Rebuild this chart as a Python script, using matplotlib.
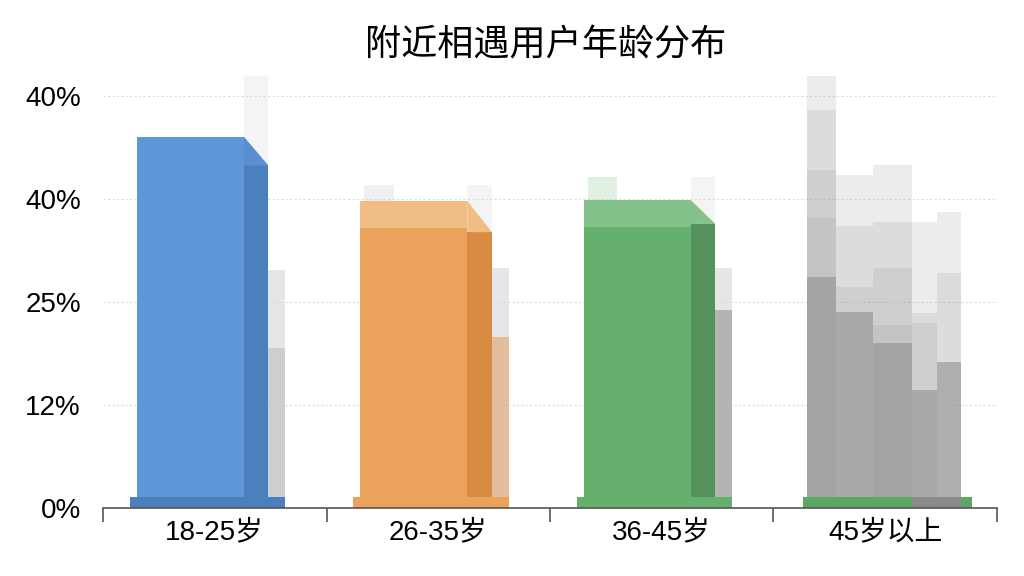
import matplotlib.pyplot as plt
import numpy as np

plt.rcParams['font.family'] = ['Liberation Sans', 'Noto Sans CJK SC', 'DejaVu Sans']

# data
categories = ['18-25岁', '26-35岁', '36-45岁', '45岁以上']
main_vals = [45.1, 37.3, 37.4]
side_vals = [41.6, 33.5, 34.5]
top_ghost = [52.5, 39.2, 40.2]        # faint shadow above main bars
ghost_hi = [28.9, 29.1, 29.2]         # faint shadow right of side bar
ghost_lo = [19.4, 20.8, 24.0]
ytick_vals = [0, 12.5, 25, 37.5, 50]
ytick_labels = ['0%', '12%', '25%', '40%', '40%']

# 45岁以上 : overlapping grey columns, several translucent layers each
grey_cols = [
    [28.0, 35.2, 41.0, 48.3, 52.5],
    [23.8, 26.8, 34.3, 40.4],
    [20.0, 22.2, 29.1, 34.7, 41.6],
    [14.3, 22.5, 23.7, 34.7],
    [17.7, 28.5, 35.9],
]

main_colors = ['#5e97d8', '#eba25a', '#66b06d']
side_colors = ['#4a80bd', '#d98b43', '#57915d']
band_colors = ['#5e97d8', '#f0bd85', '#85c28b']
ghost_colors = ['#c9c9c9', '#e3b48a', '#a8a8a8']

fig = plt.figure(figsize=(10.24, 5.76), dpi=100)
ax = fig.add_axes([0.1006, 0.118, 0.8730, 0.772])

main_l, main_w = 0.15, 0.48
side_w = 0.11
gh_w = 0.075

for i in range(3):
    x0 = i + main_l
    xs = x0 + main_w
    xg = xs + side_w
    # faint shadow columns
    ax.bar(xs, top_ghost[i], width=side_w, align='edge', color='#d5d5d5', alpha=0.25, zorder=1)
    ax.bar(x0 + 0.02, top_ghost[i] - 13 if i == 0 else top_ghost[i], width=0.13, align='edge',
           color='#cfcfcf' if i < 2 else '#9fd0a3', alpha=0.3, zorder=1)
    ax.bar(xg, ghost_hi[i], width=gh_w, align='edge', color='#d6d6d6', alpha=0.6, zorder=1)
    ax.bar(xg, ghost_lo[i], width=gh_w, align='edge', color=ghost_colors[i], alpha=0.8, zorder=1)
    # main block
    band = 0 if i == 0 else 3.3
    ax.bar(x0, main_vals[i] - band, width=main_w, align='edge', color=main_colors[i], zorder=3)
    if band:
        ax.bar(x0, band, bottom=main_vals[i] - band, width=main_w, align='edge',
               color=band_colors[i], zorder=3)
    # side face and bevel
    ax.bar(xs, side_vals[i], width=side_w, align='edge', color=side_colors[i], zorder=3)
    ax.fill([xs, xs + side_w, xs], [main_vals[i], side_vals[i], side_vals[i]],
            color=band_colors[i] if i else '#5a8fcf', zorder=3, lw=0)
    # base plate
    ax.bar(x0 - 0.03, 1.3, width=main_w + side_w + gh_w + 0.03, align='edge',
           color=side_colors[i] if i == 0 else main_colors[i], zorder=4)

edges = [3.15, 3.28, 3.445, 3.62, 3.73, 3.84]
for j, col in enumerate(grey_cols):
    w = edges[j + 1] - edges[j]
    for k, h in enumerate(col):
        ax.bar(edges[j], h, width=w, align='edge', color='#8c8c8c',
               alpha=0.55 if k == 0 else 0.16, lw=0, zorder=2)
ax.bar(3.13, 1.3, width=0.76, align='edge', color='#5aa862', zorder=4)
ax.bar(edges[3], 1.3, width=edges[5] - edges[3], align='edge', color='#8a8a8a', zorder=5)

ax.set_xlim(0, 4)
ax.set_ylim(0, 54)
ax.set_yticks(ytick_vals)
ax.set_yticklabels(ytick_labels, fontsize=20)
ax.tick_params(axis='y', length=0, pad=16)
ax.set_xticks(np.arange(4) + 0.5)
ax.set_xticklabels(categories, fontsize=20)
ax.set_xticks(np.arange(5), minor=True)
ax.tick_params(axis='x', which='major', length=0, pad=8)
ax.tick_params(axis='x', which='minor', length=10, color='#555555', width=1.2)
for s in ['left', 'right', 'top']:
    ax.spines[s].set_visible(False)
ax.spines['bottom'].set_color('#555555')
ax.spines['bottom'].set_linewidth(1.2)
ax.spines['bottom'].set_zorder(6)
ax.yaxis.grid(True, color='#dddddd', linestyle=(0, (2, 2)), linewidth=0.8)
ax.set_axisbelow(True)

fig.text(0.5327, 0.922, '附近相遇用户年龄分布', ha='center', va='center', fontsize=26,
         family=['Noto Sans CJK SC', 'DejaVu Sans'])

fig.savefig('out.png', dpi=100)
